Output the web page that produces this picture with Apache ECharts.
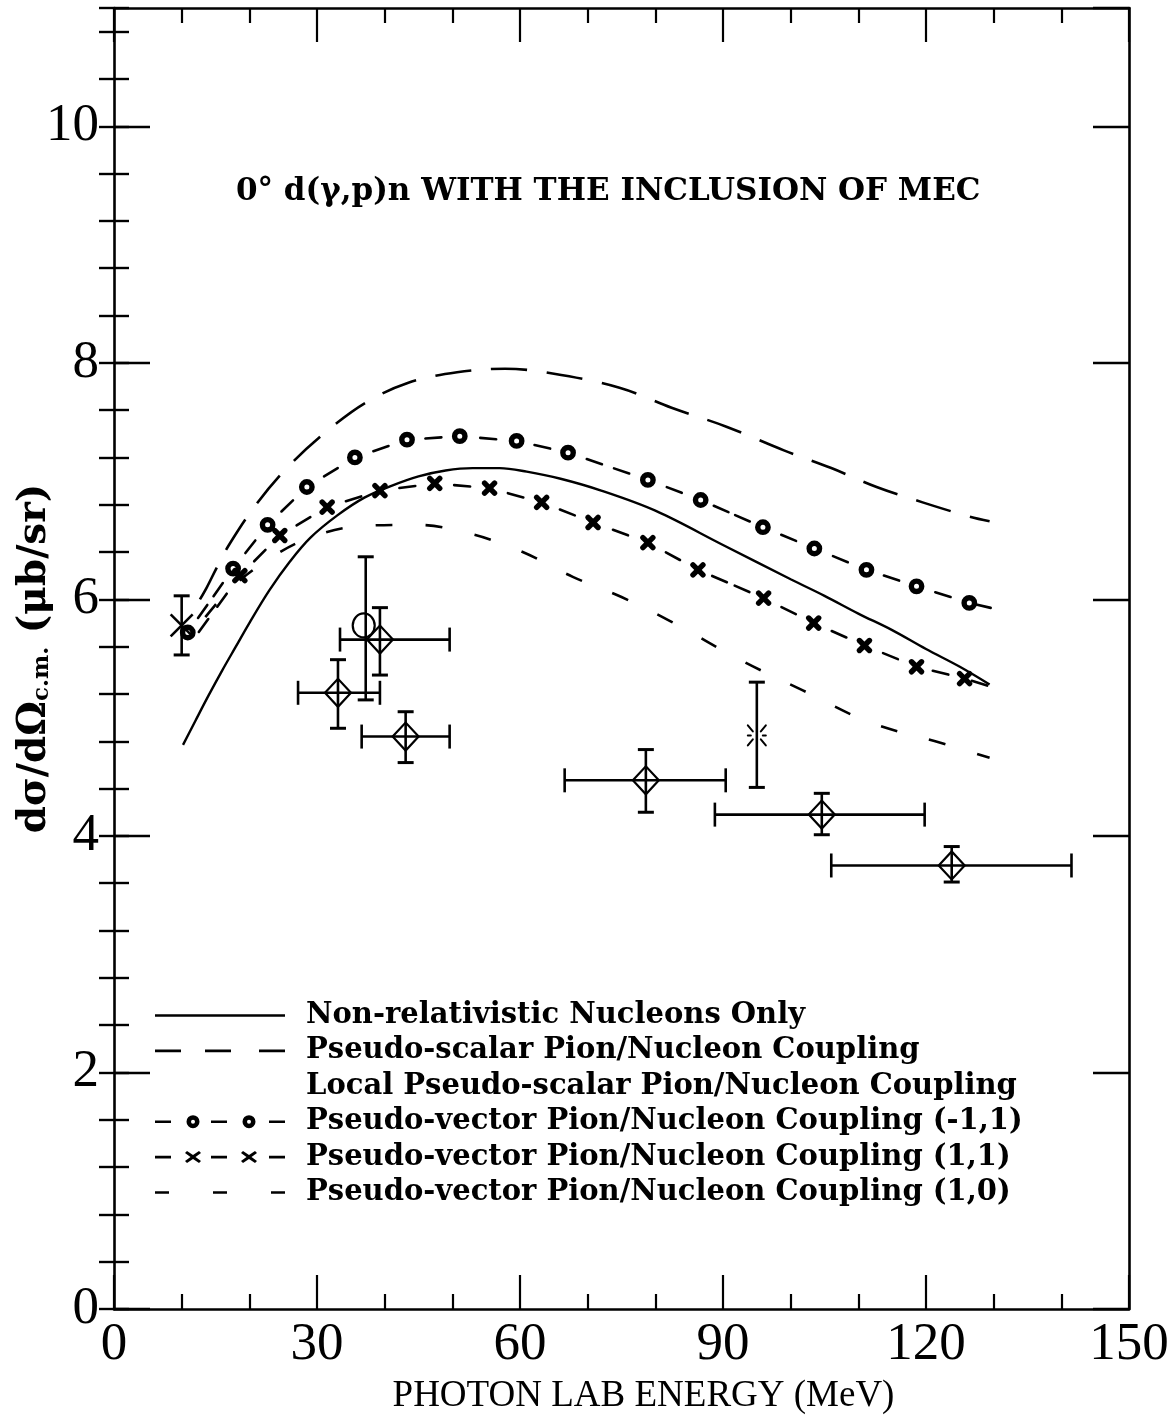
<!DOCTYPE html>
<html><head><meta charset="utf-8">
<script src="https://cdn.jsdelivr.net/npm/echarts@6/dist/echarts.min.js"></script>
<style>html,body{margin:0;padding:0;background:#fff}#c{width:1174px;height:1420px}</style>
</head><body><div id="c"></div>
<script>
// ---------- data ----------
const TITLE = '0° d(γ,p)n WITH THE INCLUSION OF MEC';
const X_NAME = 'PHOTON LAB ENERGY (MeV)';
const LEGEND_NAMES = [
  'Non-relativistic Nucleons Only',
  'Pseudo-scalar Pion/Nucleon Coupling',
  'Local Pseudo-scalar Pion/Nucleon Coupling',
  'Pseudo-vector Pion/Nucleon Coupling (-1,1)',
  'Pseudo-vector Pion/Nucleon Coupling (1,1)',
  'Pseudo-vector Pion/Nucleon Coupling (1,0)'
];
// Non-relativistic nucleons only (solid)
const NR_X = [10.2,12,14,16,18,20,23,26,29,33,37,41,45,49,53,57,61,66,72,80,90,100,105,110,115,120,125,129.4];
const NR_Y = [4.77,4.97,5.19,5.40,5.60,5.80,6.08,6.32,6.52,6.71,6.86,6.96,7.04,7.09,7.11,7.11,7.08,7.02,6.92,6.75,6.46,6.17,6.03,5.88,5.74,5.58,5.43,5.28];
// Pseudo-scalar (long dashes)
const PS_X = [12.7,13.7,15.2,17.1,21.1,25.7,31.2,37.1,43.4,50.7,57.8,64.8,74.7,82.4,90.5,99,106,112.7,119.5,126.4,129.4];
const PS_Y = [6.00,6.10,6.27,6.47,6.81,7.12,7.41,7.66,7.83,7.92,7.95,7.91,7.79,7.62,7.46,7.26,7.11,6.95,6.82,6.70,6.66];
// Pseudo-vector (-1,1): circle markers, then line end
const PVA_X = [10.9,17.6,22.7,28.5,35.6,43.3,51.1,59.5,67.1,78.9,86.7,95.9,103.5,111.2,118.6,126.4,129.4];
const PVA_Y = [5.72,6.26,6.63,6.95,7.20,7.35,7.38,7.34,7.24,7.01,6.84,6.61,6.43,6.25,6.11,5.97,5.93];
const PVA_MARK = [1,1,1,1,1,1,1,1,1,1,1,1,1,1,1,1,0];
// Pseudo-vector (1,1): x markers
const PVB_X = [11.2,18.6,24.5,31.5,39.3,47.4,55.5,63.2,70.8,78.9,86.3,96.0,103.4,110.9,118.6,125.7,129.1];
const PVB_Y = [5.62,6.20,6.54,6.78,6.92,6.98,6.94,6.82,6.65,6.48,6.25,6.01,5.80,5.61,5.43,5.33,5.27];
const PVB_MARK = [0,1,1,1,1,1,1,1,1,1,1,1,1,1,1,1,0];
// Pseudo-vector (1,0): short dashes
const PVC_X = [13.5,17,21.6,28,36.3,44.8,53,60.4,67.8,75,82.4,92.5,101.8,111.7,122,129.4];
const PVC_Y = [5.85,6.08,6.29,6.50,6.62,6.63,6.55,6.40,6.19,6.02,5.81,5.49,5.23,4.96,4.79,4.66];
// Measurements with diamonds: energy, value, energy low/high, value low/high
const DM_X  = [33.1,39.3,43.1,78.6,104.6,123.8];
const DM_Y  = [5.21,5.66,4.84,4.47,4.18,3.75];
const DM_XL = [27.2,33.4,36.6,66.6,88.8,106.0];
const DM_XH = [39.3,49.6,49.6,90.4,119.8,141.5];
const DM_YL = [4.91,5.36,4.62,4.20,4.01,3.61];
const DM_YH = [5.49,5.93,5.05,4.73,4.36,3.91];
// Open circle measurement
const OC_X = [37.2], OC_Y = [5.78], OC_YL = [5.15], OC_YH = [6.36];
// Asterisk measurement
const AS_X = [95.0], AS_Y = [4.85], AS_YL = [4.41], AS_YH = [5.30];
// Cross measurement
const XM_X = [10.0], XM_Y = [5.78], XM_YL = [5.53], XM_YH = [6.03];

// ---------- chart ----------
const FONT_TXT = "'DejaVu Serif',serif";
const FONT_NUM = "'Liberation Serif','DejaVu Serif',serif";
const K = '#000';
const zip = (a,b) => a.map((v,i)=>[v,b[i]]);
const pairs = (X,Y,M) => X.slice(0,-1).map((x,i)=>[x,Y[i],X[i+1],Y[i+1],M[i],M[i+1],i===X.length-2?1:0]);

function markerDashRender(kind){
  return function(params, api){
    const p1 = api.coord([api.value(0),api.value(1)]);
    const p2 = api.coord([api.value(2),api.value(3)]);
    const m1 = api.value(4), m2 = api.value(5), last = api.value(6);
    const dx = p2[0]-p1[0], dy = p2[1]-p1[1], L = Math.hypot(dx,dy);
    const ux = dx/L, uy = dy/L;
    const c1 = m1?7:0, c2 = m2?7:0;
    const free = L - c1 - c2, dash = 16;
    const n = Math.max(1, Math.round((free-11)/27));
    const gap = (free - n*dash)/(n+1);
    const ch = [];
    const st = {stroke:K, lineWidth:2.6, lineCap:'round'};
    for(let k=0;k<n;k++){
      const s = c1 + gap*(k+1) + dash*k, e = s+dash;
      ch.push({type:'line', shape:{x1:p1[0]+ux*s,y1:p1[1]+uy*s,x2:p1[0]+ux*e,y2:p1[1]+uy*e}, style:st});
    }
    const mk = (p) => {
      if(kind==='o') ch.push({type:'circle', shape:{cx:p[0],cy:p[1],r:5.2}, style:{fill:null,stroke:K,lineWidth:5.4}});
      else {
        const s2 = {stroke:K,lineWidth:5.4,lineCap:'round'};
        ch.push({type:'line',shape:{x1:p[0]-5,y1:p[1]-5,x2:p[0]+5,y2:p[1]+5},style:s2});
        ch.push({type:'line',shape:{x1:p[0]-5,y1:p[1]+5,x2:p[0]+5,y2:p[1]-5},style:s2});
      }
    };
    if(m1) mk(p1);
    if(last && m2) mk(p2);
    return {type:'group', children:ch};
  };
}

function errRender(hasX, sym){
  return function(params, api){
    const x=api.value(0), y=api.value(1);
    const c=api.coord([x,y]);
    const st={stroke:K,lineWidth:2.6};
    const ch=[];
    let yl, yh;
    if(hasX){
      const pl=api.coord([api.value(2),y]), ph=api.coord([api.value(3),y]);
      yl=api.coord([x,api.value(4)]); yh=api.coord([x,api.value(5)]);
      ch.push({type:'line',shape:{x1:pl[0],y1:c[1],x2:ph[0],y2:c[1]},style:st});
      ch.push({type:'line',shape:{x1:pl[0],y1:c[1]-12,x2:pl[0],y2:c[1]+12},style:st});
      ch.push({type:'line',shape:{x1:ph[0],y1:c[1]-12,x2:ph[0],y2:c[1]+12},style:st});
    } else {
      yl=api.coord([x,api.value(2)]); yh=api.coord([x,api.value(3)]);
    }
    ch.push({type:'line',shape:{x1:c[0],y1:yl[1],x2:c[0],y2:yh[1]},style:st});
    ch.push({type:'line',shape:{x1:c[0]-8,y1:yl[1],x2:c[0]+8,y2:yl[1]},style:{stroke:K,lineWidth:3}});
    ch.push({type:'line',shape:{x1:c[0]-8,y1:yh[1],x2:c[0]+8,y2:yh[1]},style:{stroke:K,lineWidth:3}});
    if(sym==='diamond'){
      ch.push({type:'polygon',shape:{points:[[c[0]-13,c[1]],[c[0],c[1]-14],[c[0]+13,c[1]],[c[0],c[1]+14]]},style:{fill:null,stroke:K,lineWidth:2.2}});
    } else if(sym==='circle'){
      ch.push({type:'ellipse',shape:{cx:c[0]-2,cy:c[1],rx:11,ry:12},style:{fill:'#fff',stroke:K,lineWidth:2.2}});
      ch.push({type:'line',shape:{x1:c[0],y1:c[1]-12,x2:c[0],y2:c[1]+12},style:st});
    } else if(sym==='star'){
      const s3={stroke:K,lineWidth:2,lineCap:'round'};
      [[1,1],[1,-1],[-1,1],[-1,-1]].forEach(d=>{
        ch.push({type:'line',shape:{x1:c[0]+d[0]*4,y1:c[1]+d[1]*4,x2:c[0]+d[0]*9,y2:c[1]+d[1]*10},style:s3});
      });
      ch.push({type:'line',shape:{x1:c[0]-9,y1:c[1],x2:c[0]-6,y2:c[1]},style:s3});
      ch.push({type:'line',shape:{x1:c[0]+6,y1:c[1],x2:c[0]+9,y2:c[1]},style:s3});
    } else if(sym==='x'){
      const s4={stroke:K,lineWidth:2.6};
      ch.push({type:'line',shape:{x1:c[0]-11,y1:c[1]-11,x2:c[0]+11,y2:c[1]+11},style:s4});
      ch.push({type:'line',shape:{x1:c[0]-11,y1:c[1]+11,x2:c[0]+11,y2:c[1]-11},style:s4});
    }
    return {type:'group',children:ch};
  };
}

// legend icons (130 x 16 box); corner specks fix the bounding box
const BOX = 'M0 0L0.05 0L0 0.05Z M130 16L129.95 16L130 15.95Z ';
const rect = (a,b) => `M${a} 6.7H${b}V9.3H${a}Z `;
const ring = (cx) => `M${cx+6.5} 8A6.5 6.5 0 1 0 ${cx-6.5} 8A6.5 6.5 0 1 0 ${cx+6.5} 8Z M${cx+2} 8A2 2 0 1 1 ${cx-2} 8A2 2 0 1 1 ${cx+2} 8Z `;
const cross = (cx) => `M${cx-6} 2L${cx} 6L${cx+6} 2L${cx+8} 4L${cx+2.5} 8L${cx+8} 12L${cx+6} 14L${cx} 10L${cx-6} 14L${cx-8} 12L${cx-2.5} 8L${cx-8} 4Z `;
const ICONS = [
  'path://' + BOX + rect(0,130),
  'path://' + BOX + rect(0,26) + rect(50,76) + rect(104,130),
  'path://' + BOX,
  'path://' + BOX + rect(0,16) + ring(38) + rect(56,72) + ring(94) + rect(114,130),
  'path://' + BOX + rect(0,16) + cross(38) + rect(56,72) + cross(94) + rect(114,130),
  'path://' + BOX + rect(0,14) + rect(58,72) + rect(116,130)
];

const xAxisBase = {type:'value', min:0, max:150, interval:30, splitLine:{show:false},
  axisLine:{show:true, onZero:false, lineStyle:{color:K,width:2.6}},
  axisTick:{show:true, inside:true, length:34, lineStyle:{color:K,width:2.2}},
  minorTick:{show:true, splitNumber:3, length:15, lineStyle:{color:K,width:2.2}},
  minorSplitLine:{show:false}};
const yMajor = {type:'value', min:0, max:11, interval:2, splitLine:{show:false},
  axisLine:{show:true, onZero:false, lineStyle:{color:K,width:2.6}},
  axisTick:{show:true, inside:true, length:36, lineStyle:{color:K,width:2.4}}};
const yMinor = {type:'value', min:0, max:11, interval:0.4, splitLine:{show:false},
  axisLine:{show:false}, axisLabel:{show:false},
  axisTick:{show:true, inside:true, length:15, lineStyle:{color:K,width:2.4}}};

const chart = echarts.init(document.getElementById('c'), null, {renderer:'canvas'});
chart.setOption({
  backgroundColor:'#fff',
  animation:false,
  title:{text:TITLE, left:231, top:171, textStyle:{fontFamily:FONT_TXT, fontWeight:'bold', fontSize:31, color:K}},
  grid:{left:114, right:45, top:8, bottom:111, containLabel:false, outerBoundsMode:'none'},
  xAxis:[
    Object.assign({}, xAxisBase, {position:'bottom', name:X_NAME, nameLocation:'middle', nameGap:69, nameMoveOverlap:false,
      nameTextStyle:{fontFamily:FONT_NUM, fontSize:37, color:K, padding:[0,0,0,44]},
      axisLabel:{show:true, margin:10, fontFamily:FONT_NUM, fontSize:53, color:K}}),
    Object.assign({}, xAxisBase, {position:'top', axisLabel:{show:false}})
  ],
  yAxis:[
    Object.assign({}, yMajor, {position:'left', name:'dσ/dΩ{sub|c.m.} (μb/sr)', nameLocation:'middle', nameGap:60, nameMoveOverlap:false,
      nameTextStyle:{fontFamily:"'DejaVu Serif',serif", fontWeight:'bold', fontSize:39, color:K,
        rich:{sub:{fontFamily:"'DejaVu Serif',serif", fontWeight:'bold', fontSize:23, verticalAlign:'bottom', padding:[15,0,0,0]}}},
      axisLabel:{show:true, margin:15, fontFamily:FONT_NUM, fontSize:53, color:K, showMaxLabel:false,
        formatter:v => (v%2===0 ? String(v) : '')}}),
    Object.assign({}, yMinor, {position:'left'}),
    Object.assign({}, yMajor, {position:'right', axisLabel:{show:false}}),
    Object.assign({}, yMinor, {position:'right'})
  ],
  legend:{
    data: LEGEND_NAMES.map((n,i)=>({name:n, icon:ICONS[i]})),
    orient:'vertical', left:150, top:996, itemWidth:130, itemHeight:16, itemGap:6.4,
    selectedMode:false,
    itemStyle:{color:K, borderWidth:0},
    textStyle:{fontFamily:FONT_TXT, fontWeight:'bold', fontSize:29, lineHeight:29, color:K, padding:[0,0,0,16]}
  },
  series:[
    {name:LEGEND_NAMES[0], type:'line', data:zip(NR_X,NR_Y), smooth:0.35, symbol:'none', color:K,
      lineStyle:{color:K, width:2.4}},
    {name:LEGEND_NAMES[1], type:'line', data:zip(PS_X,PS_Y), smooth:0.35, symbol:'none', color:K,
      lineStyle:{color:K, width:2.6, type:[36,20]}},
    {name:LEGEND_NAMES[2], type:'line', data:[], symbol:'none', color:K, lineStyle:{color:K, width:0}},
    {name:LEGEND_NAMES[3], type:'custom', data:pairs(PVA_X,PVA_Y,PVA_MARK), renderItem:markerDashRender('o'),
      encode:{x:[0,2], y:[1,3]}, color:K},
    {name:LEGEND_NAMES[4], type:'custom', data:pairs(PVB_X,PVB_Y,PVB_MARK), renderItem:markerDashRender('x'),
      encode:{x:[0,2], y:[1,3]}, color:K},
    {name:LEGEND_NAMES[5], type:'line', data:zip(PVC_X,PVC_Y), smooth:0.35, symbol:'none', color:K,
      lineStyle:{color:K, width:2.6, type:[17,33]}},
    {name:'data-diamond', type:'custom', renderItem:errRender(true,'diamond'),
      data:DM_X.map((x,i)=>[x,DM_Y[i],DM_XL[i],DM_XH[i],DM_YL[i],DM_YH[i]]), encode:{x:[0,2,3], y:[1,4,5]}},
    {name:'data-circle', type:'custom', renderItem:errRender(false,'circle'),
      data:OC_X.map((x,i)=>[x,OC_Y[i],OC_YL[i],OC_YH[i]]), encode:{x:[0], y:[1,2,3]}},
    {name:'data-star', type:'custom', renderItem:errRender(false,'star'),
      data:AS_X.map((x,i)=>[x,AS_Y[i],AS_YL[i],AS_YH[i]]), encode:{x:[0], y:[1,2,3]}},
    {name:'data-cross', type:'custom', renderItem:errRender(false,'x'),
      data:XM_X.map((x,i)=>[x,XM_Y[i],XM_YL[i],XM_YH[i]]), encode:{x:[0], y:[1,2,3]}}
  ]
});
</script>
</body></html>
